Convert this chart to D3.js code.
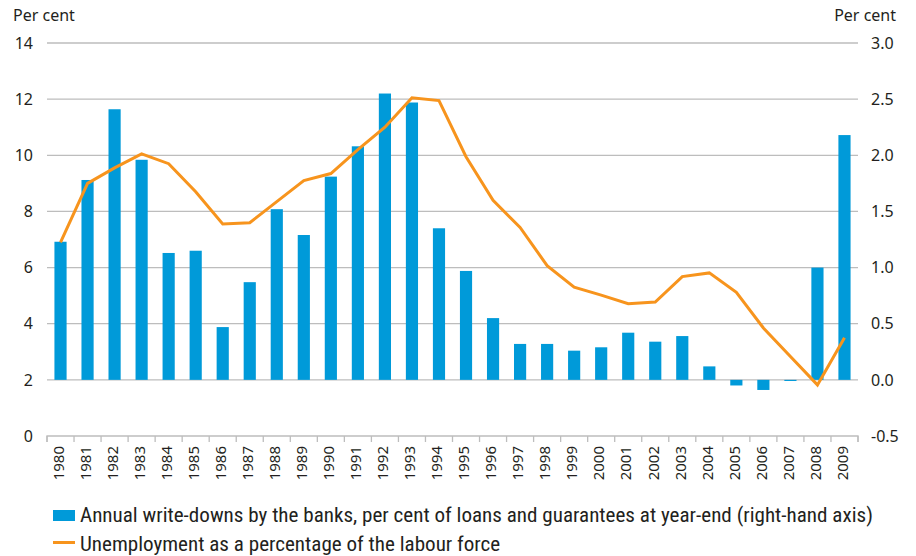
<!DOCTYPE html>
<html>
<head>
<meta charset="utf-8">
<script src="https://cdn.jsdelivr.net/npm/d3@7"></script>
<style>
  html, body { margin: 0; padding: 0; background: #fff; }
  svg { display: block; }
  text { fill: #231F20; }
</style>
</head>
<body>
<svg id="chart" width="916" height="556"></svg>
<script>
// ---- data ----
const years = ["1980","1981","1982","1983","1984","1985","1986","1987","1988","1989",
               "1990","1991","1992","1993","1994","1995","1996","1997","1998","1999",
               "2000","2001","2002","2003","2004","2005","2006","2007","2008","2009"];
// Annual write-downs by the banks (right-hand axis)
const writeDowns = [1.23, 1.78, 2.41, 1.96, 1.13, 1.15, 0.47, 0.87, 1.52, 1.29,
                    1.81, 2.08, 2.55, 2.47, 1.35, 0.97, 0.55, 0.32, 0.32, 0.26,
                    0.29, 0.42, 0.34, 0.39, 0.12, -0.05, -0.09, -0.01, 1.00, 2.18];
// Unemployment as a percentage of the labour force (left-hand axis)
const unemployment = [6.9, 9.0, 9.55, 10.05, 9.7, 8.7, 7.55, 7.6, 8.35, 9.1,
                      9.35, 10.2, 11.0, 12.05, 11.95, 9.95, 8.4, 7.43, 6.07, 5.3,
                      5.02, 4.71, 4.77, 5.68, 5.81, 5.12, 3.85, 2.83, 1.82, 3.5];
const leftTicks = [0, 2, 4, 6, 8, 10, 12, 14];
const rightTicks = [-0.5, 0.0, 0.5, 1.0, 1.5, 2.0, 2.5, 3.0];
const rightTickLabels = ["-0.5", "0.0", "0.5", "1.0", "1.5", "2.0", "2.5", "3.0"];
const axisTitle = "Per cent";
const legendLabels = [
  "Annual write-downs by the banks, per cent of loans and guarantees at year-end (right-hand axis)",
  "Unemployment as a percentage of the labour force"
];

// ---- layout ----
const svg = d3.select("#chart");
const plotL = 47, plotR = 858, plotT = 43, plotB = 436;
const font = "'Noto Sans', 'Open Sans', sans-serif";
const barColor = "#009AD9", lineColor = "#F7941D", gridColor = "#BDBDBD";

const x = d3.scaleBand().domain(years).range([plotL, plotR]).paddingInner(0.55).paddingOuter(0.275);
const yL = d3.scaleLinear().domain([0, 14]).range([plotB, plotT]);
const yR = d3.scaleLinear().domain([-0.5, 3.0]).range([plotB, plotT]);

// grid lines
svg.append("g").selectAll("line").data(leftTicks.filter(d => d !== 0)).join("line")
  .attr("x1", plotL).attr("x2", plotR)
  .attr("y1", d => yL(d)).attr("y2", d => yL(d))
  .attr("stroke", gridColor).attr("stroke-width", 1.3);

// bars
svg.append("g").selectAll("rect").data(years).join("rect")
  .attr("x", (d) => x(d))
  .attr("width", x.bandwidth())
  .attr("y", (d, i) => Math.min(yR(writeDowns[i]), yR(0)))
  .attr("height", (d, i) => Math.abs(yR(writeDowns[i]) - yR(0)))
  .attr("fill", barColor);

// line
const line = d3.line()
  .x((d, i) => x(years[i]) + x.bandwidth() / 2)
  .y(d => yL(d));
svg.append("path").datum(unemployment)
  .attr("d", line)
  .attr("fill", "none")
  .attr("stroke", lineColor)
  .attr("stroke-width", 3)
  .attr("stroke-linejoin", "miter");

// bottom axis
const xAxis = d3.axisBottom(x).tickSizeInner(6).tickSizeOuter(6).tickFormat("");
const gx = svg.append("g").attr("transform", `translate(0,${plotB})`).call(xAxis);
gx.select(".domain").attr("stroke", gridColor).attr("stroke-width", 1.3)
  .attr("d", `M${plotL},6V0H${plotR}V6`);
// move ticks to band boundaries
gx.selectAll(".tick").remove();
const bounds = years.map(d => x(d) - x.step() * x.paddingInner() / 2).concat([plotR]);
gx.selectAll("line.bt").data(bounds).join("line").attr("class", "bt")
  .attr("x1", d => d).attr("x2", d => d).attr("y1", 0).attr("y2", 6)
  .attr("stroke", gridColor).attr("stroke-width", 1.3);

// year labels
svg.append("g").selectAll("text").data(years).join("text")
  .attr("transform", d => `translate(${x(d) + x.bandwidth() / 2 - 2},${plotB + 10}) rotate(-90)`)
  .attr("text-anchor", "end")
  .attr("dy", "0.35em")
  .style("font-family", font).style("font-size", "15px")
  .text(d => d);

// left tick labels
svg.append("g").selectAll("text").data(leftTicks).join("text")
  .attr("x", 33).attr("y", d => yL(d)).attr("dy", "0.36em")
  .attr("text-anchor", "end")
  .style("font-family", font).style("font-size", "16px")
  .text(d => String(d));

// right tick labels
svg.append("g").selectAll("text").data(rightTicks).join("text")
  .attr("x", 871).attr("y", d => yR(d)).attr("dy", "0.36em")
  .attr("text-anchor", "start")
  .style("font-family", font).style("font-size", "16px")
  .text((d, i) => rightTickLabels[i]);

// axis titles
svg.append("text").attr("x", 13).attr("y", 21)
  .style("font-family", font).style("font-size", "16px").text(axisTitle);
svg.append("text").attr("x", 896).attr("y", 21).attr("text-anchor", "end")
  .style("font-family", font).style("font-size", "16px").text(axisTitle);

// legend
const lg = svg.append("g");
lg.append("rect").attr("x", 53).attr("y", 510).attr("width", 22).attr("height", 11).attr("fill", barColor);
lg.append("line").attr("x1", 53).attr("x2", 75).attr("y1", 542.5).attr("y2", 542.5)
  .attr("stroke", lineColor).attr("stroke-width", 3);
const legendFont = "'Liberation Sans Narrow', 'Roboto Condensed', sans-serif";
const t1 = lg.append("text").attr("x", 80).attr("y", 522)
  .style("font-family", legendFont).style("font-size", "17px").text(legendLabels[0]);
const t2 = lg.append("text").attr("x", 80).attr("y", 551)
  .style("font-family", legendFont).style("font-size", "17px").text(legendLabels[1]);
// fit first legend line to its width in the reference
const w = t1.node().getComputedTextLength();
const fs = 17 * 793 / w;
t1.style("font-size", fs + "px");
t2.style("font-size", fs + "px");
</script>
</body>
</html>
